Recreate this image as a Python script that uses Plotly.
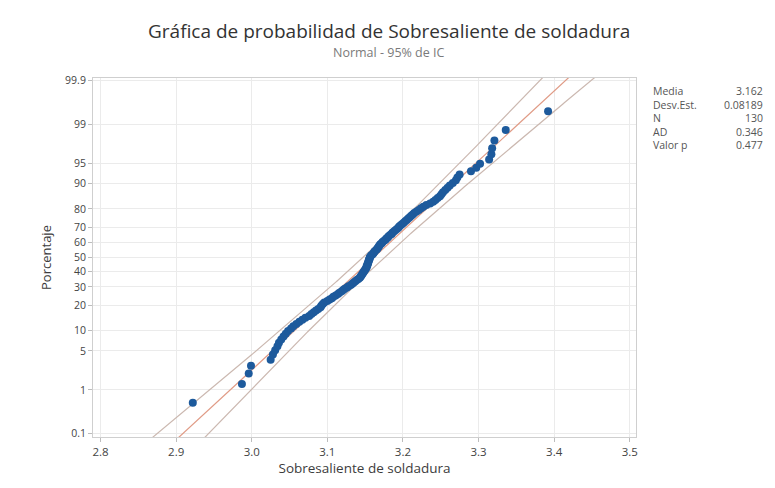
from statistics import NormalDist
import plotly.graph_objects as go

# Sorted measurements of weld overhang (Sobresaliente de soldadura), n = 130
sobresaliente = [
    2.922, 2.987, 2.996, 2.999, 3.025, 3.028, 3.031, 3.034, 3.036, 3.039,
    3.042, 3.045, 3.048, 3.052, 3.055, 3.059, 3.063, 3.067, 3.071, 3.076,
    3.079, 3.082, 3.085, 3.088, 3.091, 3.092, 3.094, 3.096, 3.100, 3.103,
    3.106, 3.108, 3.111, 3.114, 3.116, 3.119, 3.121, 3.123, 3.126, 3.128,
    3.131, 3.133, 3.135, 3.137, 3.139, 3.141, 3.143, 3.144, 3.145, 3.146,
    3.147, 3.148, 3.149, 3.150, 3.151, 3.152, 3.152, 3.153, 3.153, 3.154,
    3.154, 3.155, 3.155, 3.156, 3.156, 3.157, 3.158, 3.160, 3.161, 3.162,
    3.163, 3.165, 3.166, 3.167, 3.168, 3.169, 3.170, 3.172, 3.173, 3.175,
    3.177, 3.178, 3.180, 3.181, 3.183, 3.185, 3.186, 3.188, 3.190, 3.192,
    3.194, 3.195, 3.197, 3.199, 3.201, 3.203, 3.205, 3.207, 3.209, 3.211,
    3.213, 3.215, 3.218, 3.221, 3.224, 3.227, 3.231, 3.236, 3.240, 3.243,
    3.246, 3.249, 3.251, 3.253, 3.256, 3.259, 3.262, 3.266, 3.270, 3.272,
    3.275, 3.290, 3.297, 3.302, 3.314, 3.317, 3.318, 3.321, 3.336, 3.392,
]

# Summary statistics shown in the side table
media = 3.162
desv_est = 0.08189
n_obs = 130
ad = 0.346
valor_p = 0.477

stat_labels = ["Media", "Desv.Est.", "N", "AD", "Valor p"]
stat_values = ["3.162", "0.08189", "130", "0.346", "0.477"]

pct_ticks = [0.1, 1, 5, 10, 20, 30, 40, 50, 60, 70, 80, 90, 95, 99, 99.9]
pct_text = ["0.1", "1", "5", "10", "20", "30", "40", "50", "60", "70", "80", "90", "95", "99", "99.9"]
x_ticks = [2.8, 2.9, 3.0, 3.1, 3.2, 3.3, 3.4, 3.5]

nd = NormalDist()
N = len(sobresaliente)
# Median-rank (Benard) plotting positions on the normal-score scale
z_pts = [nd.inv_cdf((i - 0.3) / (N + 0.4)) for i in range(1, N + 1)]

# Fitted line and 95% confidence bands for the normal percentiles
z_line = [-3.3 + k * 0.02 for k in range(int(6.6 / 0.02) + 1)]
fit_x = [media + z * desv_est for z in z_line]
half = [1.96 * desv_est * ((1 + z * z / 2) / n_obs) ** 0.5 for z in z_line]
lo_x = [f - h for f, h in zip(fit_x, half)]
hi_x = [f + h for f, h in zip(fit_x, half)]

band_col = "rgba(200,180,172,0.95)"
fit_col = "rgba(222,150,128,0.95)"
txt_col = "#3c3c3c"
font_fam = "Open Sans, Noto Sans, sans-serif"

fig = go.Figure()
fig.add_trace(go.Scatter(x=lo_x, y=z_line, mode="lines",
                         line=dict(color=band_col, width=1.2), hoverinfo="skip"))
fig.add_trace(go.Scatter(x=hi_x, y=z_line, mode="lines",
                         line=dict(color=band_col, width=1.2), hoverinfo="skip"))
fig.add_trace(go.Scatter(x=fit_x, y=z_line, mode="lines",
                         line=dict(color=fit_col, width=1.2), hoverinfo="skip"))
fig.add_trace(go.Scatter(x=sobresaliente, y=z_pts, mode="markers",
                         marker=dict(color="#1d5a9c", size=8, line=dict(width=0))))

# Layout geometry (pixels)
W, H = 775, 488
L, R, T, B = 93, 139, 78, 51
pw = W - L - R
ph = H - T - B

z_top = nd.inv_cdf(0.999)
px_per_z = (433 - 80) / (2 * z_top)
y_range = [-(437 - 257) / px_per_z, (257 - 78) / px_per_z]

fig.update_layout(
    width=W, height=H,
    margin=dict(l=L, r=R, t=T, b=B),
    paper_bgcolor="white", plot_bgcolor="white",
    showlegend=False,
    font=dict(family=font_fam, color=txt_col),
    xaxis=dict(
        range=[2.79, 3.5083], tickvals=x_ticks,
        ticktext=[f"{v:.1f}" for v in x_ticks],
        showgrid=True, gridcolor="#ebebeb", gridwidth=1,
        zeroline=False, showline=True, linecolor="#cfcfcf", mirror=True,
        ticks="outside", ticklen=4, tickcolor="#bdbdbd",
        tickfont=dict(size=11.5, color="#444"),
        title=dict(text="Sobresaliente de soldadura", font=dict(size=13.5, color=txt_col), standoff=4),
    ),
    yaxis=dict(
        range=y_range, tickvals=[nd.inv_cdf(p / 100) for p in pct_ticks],
        ticktext=pct_text,
        showgrid=True, gridcolor="#ebebeb", gridwidth=1,
        zeroline=False, showline=True, linecolor="#cfcfcf", mirror=True,
        ticks="outside", ticklen=4, tickcolor="#bdbdbd",
        tickfont=dict(size=10.5, color="#444"),
        title=dict(text="Porcentaje", font=dict(size=13, color=txt_col), standoff=10),
    ),
)

# Title and subtitle
fig.add_annotation(text="Gráfica de probabilidad de Sobresaliente de soldadura",
                   xref="paper", yref="paper",
                   x=(389 - L) / pw, y=(H - B - 31) / ph, xanchor="center", yanchor="middle",
                   showarrow=False, font=dict(size=19, color="#333"))
fig.add_annotation(text="Normal - 95% de IC",
                   xref="paper", yref="paper",
                   x=(389 - L) / pw, y=(H - B - 53) / ph, xanchor="center", yanchor="middle",
                   showarrow=False, font=dict(size=12.5, color="#7a7a7a"))

# Statistics table
for k, (lab, val) in enumerate(zip(stat_labels, stat_values)):
    py = 91 + k * 13.5
    yp = (H - B - py) / ph
    fig.add_annotation(text=lab, xref="paper", yref="paper", x=(651 - L) / pw, y=yp,
                       xanchor="left", yanchor="middle", showarrow=False,
                       font=dict(size=10.5, color="#555"))
    fig.add_annotation(text=val, xref="paper", yref="paper", x=(765 - L) / pw, y=yp,
                       xanchor="right", yanchor="middle", showarrow=False,
                       font=dict(size=10.5, color="#555"))

fig.write_html("out.html")
